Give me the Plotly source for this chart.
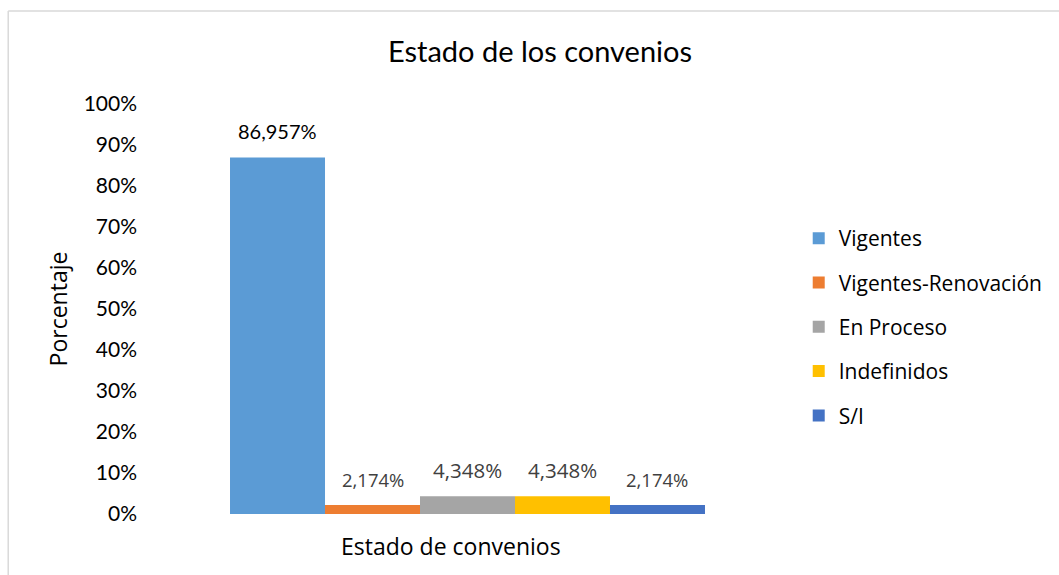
import plotly.graph_objects as go

categories = ["Vigentes", "Vigentes-Renovación", "En Proceso", "Indefinidos", "S/I"]
values = [86.957, 2.174, 4.348, 4.348, 2.174]
labels = ["86,957%", "2,174%", "4,348%", "4,348%", "2,174%"]
colors = ["#5B9BD5", "#ED7D31", "#A5A5A5", "#FFC000", "#4472C4"]
label_colors = ["#000000", "#404040", "#404040", "#404040", "#404040"]
label_fonts = ["Lato", "Open Sans", "Open Sans", "Open Sans", "Open Sans"]
label_sizes = [20, 18.5, 20.5, 20.5, 18.5]
tick_vals = [0, 0.1, 0.2, 0.3, 0.4, 0.5, 0.6, 0.7, 0.8, 0.9, 1.0]
group_name = "Estado de convenios"

W, H = 1059, 575
ML, MR, MT, MB = 150, 273, 104, 61
PW, PH = W - ML - MR, H - MT - MB
BARGAP = 0.252

fig = go.Figure()
for i, (c, v, col) in enumerate(zip(categories, values, colors)):
    fig.add_trace(go.Bar(
        x=[group_name], y=[v / 100], name=c,
        marker=dict(color=col, line=dict(width=0)),
        legendgroup=str(i),
    ))

# data labels above each bar of the group
n = len(values)
gw = 1 - BARGAP
for i, (v, lab, lc, lf, ls) in enumerate(zip(values, labels, label_colors, label_fonts, label_sizes)):
    fig.add_annotation(
        x=-gw / 2 + (i + 0.5) * gw / n, xref="x", y=v / 100, yref="y",
        text=lab, showarrow=False, yanchor="middle", yshift=26,
        font=dict(family=lf, size=ls, color=lc),
    )

# x-axis title
fig.add_annotation(
    x=(451 - ML) / PW, xref="paper", y=-(546 - MT - PH) / PH, yref="paper",
    text=group_name, showarrow=False, xanchor="center", yanchor="middle",
    font=dict(family="Open Sans", size=23, color="#000000"),
)

# light gray chart border
x0 = (8 - ML) / PW
y1 = 1 + (MT - 11) / PH
fig.add_shape(type="line", xref="paper", yref="paper", x0=x0, x1=x0, y0=-MB / PH - 0.1, y1=y1,
              line=dict(color="#D9D9D9", width=1.5))
fig.add_shape(type="line", xref="paper", yref="paper", x0=x0, x1=(W - ML) / PW + 0.1, y0=y1, y1=y1,
              line=dict(color="#D9D9D9", width=1.5))

fig.update_layout(
    width=W, height=H,
    margin=dict(l=ML, r=MR, t=MT, b=MB),
    paper_bgcolor="white", plot_bgcolor="white",
    barmode="group", bargap=BARGAP, bargroupgap=0,
    font=dict(family="Lato, Open Sans, sans-serif", color="#000000"),
    title=dict(text="Estado de los convenios", x=540 / W, xanchor="center", xref="container",
               y=1 - 52 / H, yanchor="middle",
               font=dict(size=29, color="#000000")),
    showlegend=True,
    legend=dict(x=1.02, xanchor="left", y=0.456, yanchor="middle",
                font=dict(family="Open Sans", size=21, color="#000000"), tracegroupgap=14,
                itemwidth=30),
    xaxis=dict(showticklabels=False, showgrid=False, zeroline=False, showline=False,
               range=[-0.5, 0.5]),
    yaxis=dict(range=[0, 1], tickvals=tick_vals, tickformat=".0%", showgrid=False,
               zeroline=False, showline=False, ticks="", ticklabelstandoff=12,
               tickfont=dict(size=21, color="#000000"),
               title=dict(text="Porcentaje", font=dict(family="Open Sans", size=23), standoff=9)),
)

fig.write_html("out.html", config={"displayModeBar": False},
               post_script="document.body.style.margin='0';")
